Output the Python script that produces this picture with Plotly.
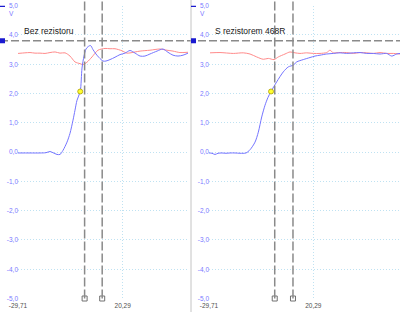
import plotly.graph_objects as go

# ---------------- data ----------------
# left panel: "Bez rezistoru"
t_blue_a = [-29.71, -23.98, -19.2, -16.34, -14.43, -13.0, -11.08, -9.65, -8.22, -6.31, -4.88,
            -3.44, -2.49, -1.53, 0.0, 0.86, 1.81, 2.77, 3.72, 4.92, 6.11, 7.54, 8.98, 10.88,
            12.3, 14.23, 16.62, 19.0, 21.4, 23.8, 26.2, 28.6, 30.9, 33.3, 36.7, 39.5, 41.9,
            44.3, 46.7, 49.1, 51.5]
v_blue_a = [-0.03, -0.03, -0.03, -0.02, 0.02, -0.02, -0.08, -0.08, 0.06, 0.34, 0.64,
            1.09, 1.43, 1.77, 2.07, 2.87, 3.28, 3.52, 3.60, 3.64, 3.50, 3.35, 3.23, 3.11,
            3.11, 3.16, 3.24, 3.33, 3.38, 3.47, 3.38, 3.28, 3.28, 3.35, 3.45, 3.52, 3.41,
            3.31, 3.28, 3.31, 3.38]
t_red_a = [-29.71, -26.4, -23.98, -21.6, -19.2, -16.8, -14.43, -12.0, -9.65, -7.26, -4.88,
           -2.49, -0.10, 1.34, 3.24, 5.63, 8.5, 11.84, 14.23, 16.62, 19.95, 22.35, 26.2,
           28.6, 33.3, 38.1, 41.4, 44.3, 47.6, 51.5]
v_red_a = [3.37, 3.39, 3.40, 3.38, 3.38, 3.37, 3.40, 3.42, 3.38, 3.39, 3.28,
           3.08, 3.02, 2.99, 3.07, 3.25, 3.48, 3.54, 3.53, 3.53, 3.46, 3.38, 3.42,
           3.45, 3.48, 3.52, 3.48, 3.45, 3.40, 3.41]

# right panel: "S rezistorem 468R"
t_blue_b = [-29.71, -28.27, -26.83, -25.4, -23.48, -21.56, -19.64, -17.25, -14.85, -11.97,
            -10.05, -7.65, -6.07, -4.44, -2.86, -1.42, 0.02, 2.75, 5.91, 8.31, 10.7, 12.33,
            15.5, 18.71, 21.11, 23.5, 26.71, 29.88, 33.09, 36.3, 39.47, 42.68, 45.89, 49.06,
            52.27, 55.48, 57.88, 60.27, 61.85]
v_blue_b = [-0.03, -0.04, -0.08, -0.04, -0.03, -0.04, -0.03, -0.03, -0.04, -0.03,
            0.08, 0.34, 0.68, 1.20, 1.60, 1.87, 2.07, 2.40, 2.74, 2.91, 2.97, 3.08,
            3.16, 3.23, 3.28, 3.31, 3.35, 3.37, 3.39, 3.37, 3.39, 3.40, 3.37, 3.37,
            3.35, 3.37, 3.28, 3.35, 3.37]
t_red_b = [-29.23, -24.44, -18.06, -13.27, -10.05, -6.84, -3.68, -1.28, 1.45, 3.51, 6.72,
           9.12, 11.52, 13.91, 17.13, 20.29, 23.5, 26.71, 28.3, 29.88, 32.28, 36.3, 39.47,
           42.68, 45.89, 49.06, 52.27, 55.48, 58.64, 61.85]
v_red_b = [3.39, 3.40, 3.37, 3.39, 3.35, 3.25, 3.17, 3.20, 3.16, 3.25, 3.35,
           3.42, 3.39, 3.37, 3.39, 3.37, 3.37, 3.40, 3.48, 3.39, 3.40, 3.40, 3.37,
           3.40, 3.39, 3.37, 3.40, 3.37, 3.37, 3.35]

y_tick_vals = [5, 4, 3, 2, 1, 0, -1, -2, -3, -4, -5]
y_tick_text = ["5,0", "4,0", "3,0", "2,0", "1,0", "0,0", "-1,0", "-2,0", "-3,0", "-4,0", "-5,0"]
x_tick_vals = [-29.71, 20.29]
x_tick_text = ["-29,71", "20,29"]
x_range_a = [-29.71, 51.48]
x_range_b = [-29.71, 61.85]
cursors_a = [2.1, 10.5]
cursors_b = [1.8, 10.55]
cursor_level = 3.8
trigger_a = (0.0, 2.07)
trigger_b = (0.02, 2.07)
titles = ["Bez rezistoru", "S rezistorem 468R"]

# ---------------- styling ----------------
W, H = 400, 312
BLUE = "#7474ff"
RED = "#ff8a8a"
GRID = "#bfe2f2"
TICKBLUE = "#7a7aff"
CURSOR = "#8a8a8a"
ydom = [1 - 298.5 / H, 1 - 5.7 / H]
xdom_a = [18 / W, 188 / W]
xdom_b = [209 / W, 1.0]
FONT = "Liberation Sans"

fig = go.Figure()
for xa, ya, tb, vb, tr, vr in [("x", "y", t_blue_a, v_blue_a, t_red_a, v_red_a),
                               ("x2", "y2", t_blue_b, v_blue_b, t_red_b, v_red_b)]:
    fig.add_trace(go.Scatter(x=tr, y=vr, xaxis=xa, yaxis=ya, mode="lines",
                             line=dict(color=RED, width=1, shape="spline", smoothing=0.8),
                             hoverinfo="skip", showlegend=False))
    fig.add_trace(go.Scatter(x=tb, y=vb, xaxis=xa, yaxis=ya, mode="lines",
                             line=dict(color=BLUE, width=1, shape="spline", smoothing=0.8),
                             hoverinfo="skip", showlegend=False))

shapes = []
annotations = []
for xa, ya, cur, trig, title, xd in [("x", "y", cursors_a, trigger_a, titles[0], xdom_a),
                                     ("x2", "y2", cursors_b, trigger_b, titles[1], xdom_b)]:
    for c in cur:
        shapes.append(dict(type="line", xref=xa, yref="paper", x0=c, x1=c, y0=ydom[0], y1=1,
                           line=dict(color=CURSOR, width=1.5, dash="9px,3px"), layer="above"))
    # open squares at bottom of cursors
    fig.add_trace(go.Scatter(x=cur, y=[-5, -5], xaxis=xa, yaxis=ya, mode="markers",
                             marker=dict(symbol="square", size=5, color="white",
                                         line=dict(color="#707070", width=1)),
                             hoverinfo="skip", showlegend=False, cliponaxis=False))
    fig.add_trace(go.Scatter(x=[trig[0]], y=[trig[1]], xaxis=xa, yaxis=ya, mode="markers",
                             marker=dict(symbol="circle", size=5, color="#ffff30",
                                         line=dict(color="#b0a000", width=0.8)),
                             hoverinfo="skip", showlegend=False))
    annotations.append(dict(text=title, xref="paper", yref=ya, x=xd[0] + 4 / W, y=4.15,
                            xanchor="left", yanchor="middle", showarrow=False,
                            font=dict(family=FONT, size=8.5, color="#202020")))
    annotations.append(dict(text="V", xref="paper", yref=ya, x=xd[0] - 1.5 / W, y=4.72,
                            xanchor="right", yanchor="middle", showarrow=False,
                            font=dict(family=FONT, size=6.5, color=TICKBLUE)))

# horizontal cursor across everything
shapes.append(dict(type="line", xref="paper", yref="y", x0=0, x1=1, y0=cursor_level,
                   y1=cursor_level, line=dict(color=CURSOR, width=1.5, dash="8px,3px"),
                   layer="above"))
# separator between panels
shapes.append(dict(type="line", xref="paper", yref="paper", x0=191 / W, x1=191 / W, y0=0, y1=1,
                   line=dict(color="#c4c4c4", width=1)))
# blue handles at edges of left panel
for px in [2.5, 193.5]:
    for yv in [5.0, cursor_level]:
        shapes.append(dict(type="rect", xref="paper", yref="y", xsizemode="pixel",
                           ysizemode="pixel", xanchor=px / W, yanchor=yv,
                           x0=-2.5, x1=2.5, y0=-2.5 + (1.2 if yv == 5.0 else 0),
                           y1=2.5 + (1.2 if yv == 5.0 else 0),
                           fillcolor="#1a1ad0", line=dict(width=0), layer="above"))

axis_common = dict(showline=False, zeroline=False, ticks="", showgrid=True, automargin=False,
                   gridcolor=GRID, griddash="1px,2px", gridwidth=1, fixedrange=True)
xfont = dict(family=FONT, size=6.5, color="#505050")
yfont = dict(family=FONT, size=6.5, color=TICKBLUE)
fig.update_layout(
    width=W, height=H, margin=dict(l=0, r=0, t=0, b=0, pad=0, autoexpand=False),
    paper_bgcolor="white", plot_bgcolor="white", showlegend=False,
    xaxis=dict(domain=xdom_a, range=x_range_a, anchor="y", tickvals=x_tick_vals,
               ticktext=x_tick_text, tickfont=xfont, ticklabelstandoff=2, **axis_common),
    xaxis2=dict(domain=xdom_b, range=x_range_b, anchor="y2", tickvals=x_tick_vals,
                ticktext=x_tick_text, tickfont=xfont, ticklabelstandoff=2, **axis_common),
    yaxis=dict(domain=ydom, range=[-5, 5], anchor="x", tickvals=y_tick_vals,
               ticktext=y_tick_text, tickfont=yfont, ticklabelstandoff=-1, **axis_common),
    yaxis2=dict(domain=ydom, range=[-5, 5], anchor="x2", tickvals=y_tick_vals,
                ticktext=y_tick_text, tickfont=yfont, ticklabelstandoff=-1, **axis_common),
    shapes=shapes, annotations=annotations,
)
fig.write_html("out.html")
